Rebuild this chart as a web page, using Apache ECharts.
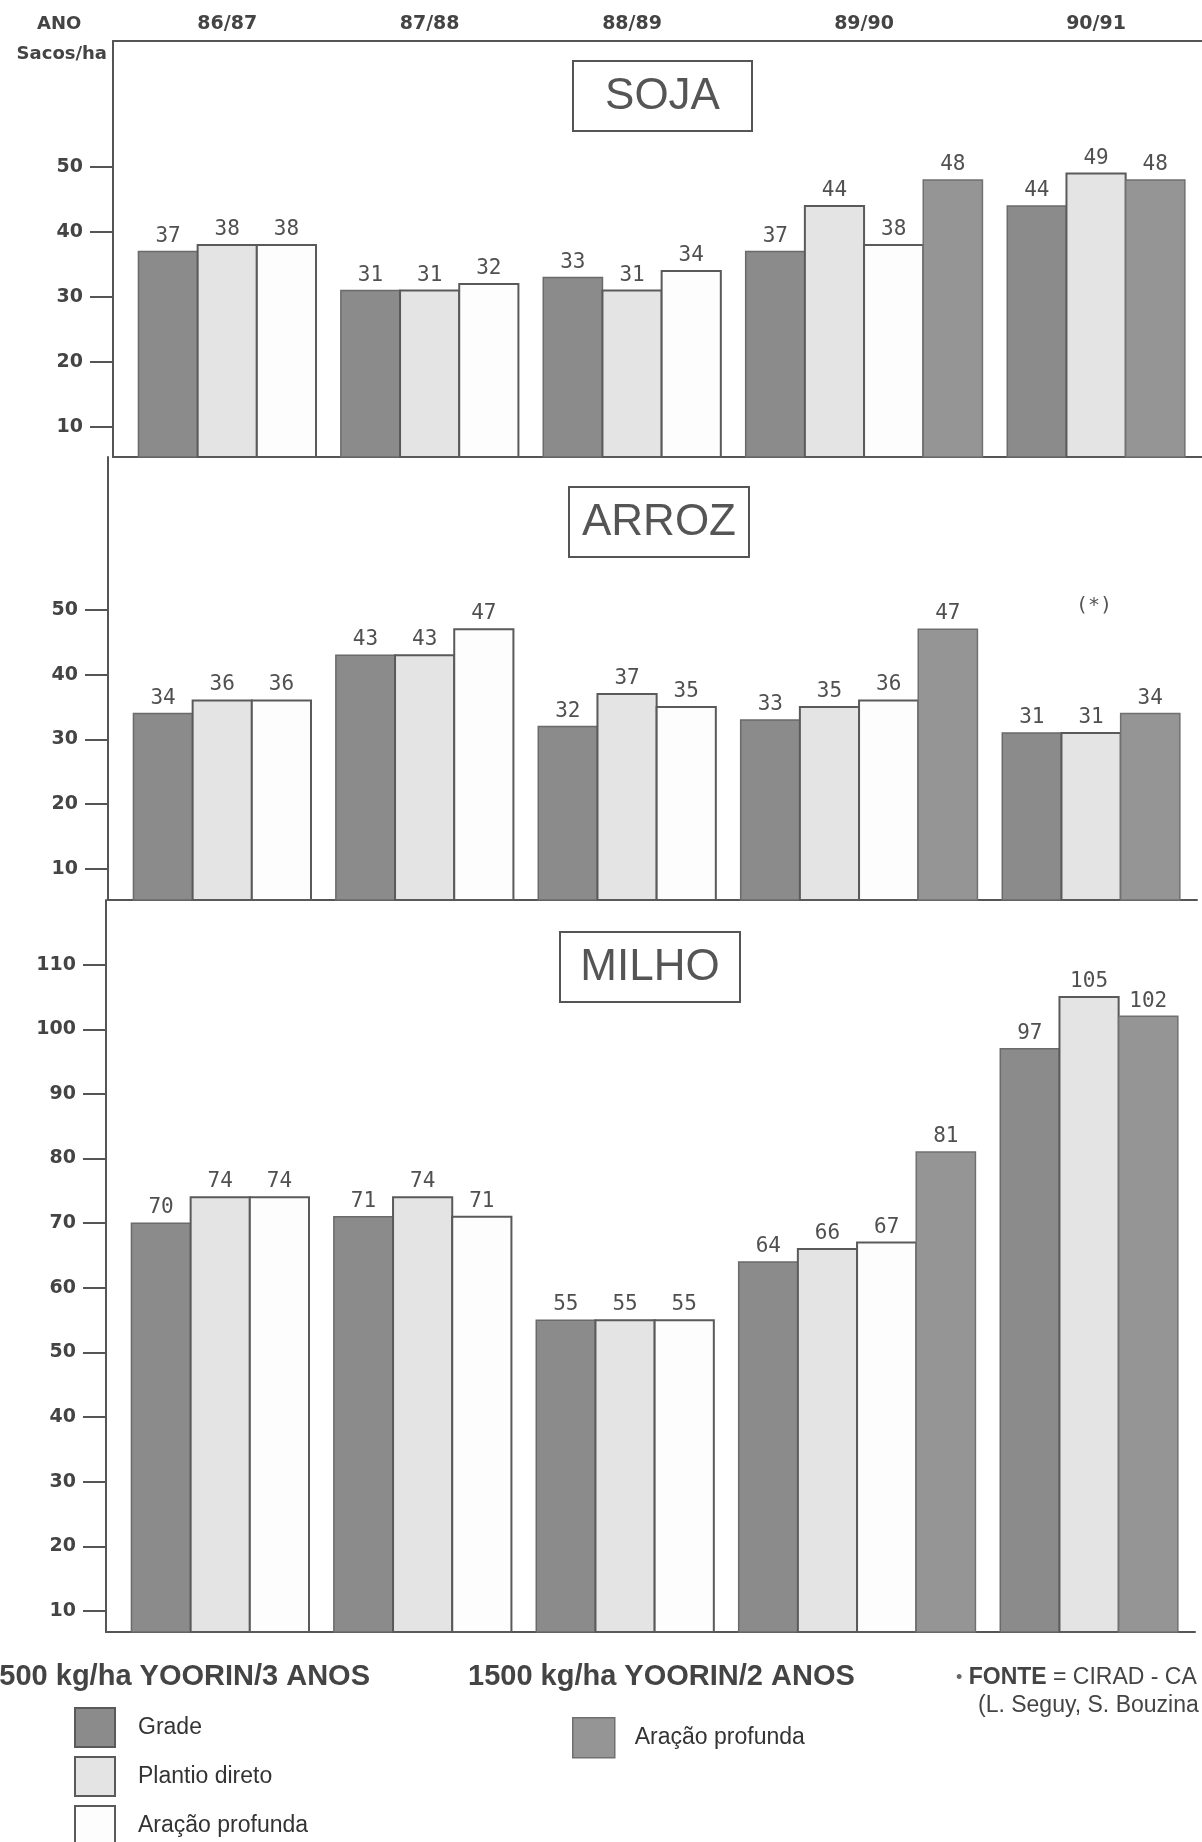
<!DOCTYPE html>
<html>
<head>
<meta charset="utf-8">
<script src="https://cdn.jsdelivr.net/npm/echarts@6/dist/echarts.min.js"></script>
<style>
html,body{margin:0;padding:0;background:#fff;}
#chart{width:1202px;height:1842px;}
</style>
</head>
<body>
<div id="chart"></div>
<script>
// ---------------- DATA ----------------
const years = ['86/87', '87/88', '88/89', '89/90', '90/91'];
const treatments = ['Grade', 'Plantio direto', 'Aração profunda (3 anos)', 'Aração profunda (2 anos)'];

const sojaGrade    = [37, 31, 33, 37, 44];
const sojaPlantio  = [38, 31, 31, 44, 49];
const sojaAracao3  = [38, 32, 34, 38, null];
const sojaAracao2  = [null, null, null, 48, 48];

const arrozGrade   = [34, 43, 32, 33, 31];
const arrozPlantio = [36, 43, 37, 35, 31];
const arrozAracao3 = [36, 47, 35, 36, null];
const arrozAracao2 = [null, null, null, 47, 34];

const milhoGrade   = [70, 71, 55, 64, 97];
const milhoPlantio = [74, 74, 55, 66, 105];
const milhoAracao3 = [74, 71, 55, 67, null];
const milhoAracao2 = [null, null, null, 81, 102];

const ticksSoja  = [10, 20, 30, 40, 50];
const ticksArroz = [10, 20, 30, 40, 50];
const ticksMilho = [10, 20, 30, 40, 50, 60, 70, 80, 90, 100, 110];

const panelTitles = ['SOJA', 'ARROZ', 'MILHO'];

// ---------------- LAYOUT (in bar-width units) ----------------
const PAD = 0.43, GAP = 0.42, XMAX = 18.4;
function layout(seriesArr) {
  const starts = seriesArr.map(() => []);
  const centers = [];
  let x = PAD;
  years.forEach((y, i) => {
    const g0 = x;
    seriesArr.forEach((arr, s) => {
      if (arr[i] != null) { starts[s].push([x, arr[i]]); x += 1; }
    });
    centers.push((g0 + x) / 2);
    x += GAP;
  });
  return { starts, centers };
}

const crops = [
  layout([sojaGrade, sojaPlantio, sojaAracao3, sojaAracao2]),
  layout([arrozGrade, arrozPlantio, arrozAracao3, arrozAracao2]),
  layout([milhoGrade, milhoPlantio, milhoAracao3, milhoAracao2])
];
const centers = crops[0].centers;

const styles = [
  { color: '#8b8b8b', borderColor: '#6a6a6a', borderWidth: 1.5 },
  { color: '#e4e4e4', borderColor: '#5a5a5a', borderWidth: 2 },
  { color: '#fdfdfd', borderColor: '#5a5a5a', borderWidth: 2 },
  { color: '#959595', borderColor: '#707070', borderWidth: 1.5 }
];

const LINE = '#555';
const TXT = '#444';

function renderBar(params, api) {
  const x0 = api.value(0), v = api.value(1);
  const p1 = api.coord([x0, v]);
  const p2 = api.coord([x0 + 1, v]);
  const cs = params.coordSys;
  const bottom = cs.y + cs.height;
  return {
    type: 'rect',
    shape: { x: p1[0], y: p1[1], width: p2[0] - p1[0], height: bottom - p1[1] },
    style: api.style(),
    textContent: {
      style: { text: String(v), font: '21px "DejaVu Sans Mono", monospace', fill: '#505050' }
    },
    textConfig: { position: 'top', distance: 4 }
  };
}

const grids = [
  { left: 113, top: 41, width: 1089, height: 416 },
  { left: 108, top: 457, width: 1089, height: 443 },
  { left: 106, top: 900, width: 1089, height: 732 }
];
const yRanges = [[5.4, 69.4], [5.2, 73.6], [6.75, 120.0]];
const yTicks = [ticksSoja, ticksArroz, ticksMilho];

const xAxes = [];
const yAxes = [];
const series = [];

// top axis with year labels
xAxes.push({
  gridIndex: 0, type: 'value', position: 'top', min: 0, max: XMAX,
  axisLine: { show: true, lineStyle: { color: LINE, width: 2 } },
  axisTick: { show: false }, splitLine: { show: false },
  axisLabel: {
    customValues: centers,
    formatter: (v) => { const i = centers.findIndex(c => Math.abs(c - v) < 1e-6); return i >= 0 ? years[i] : ''; },
    fontFamily: 'DejaVu Sans', fontWeight: 'bold', fontSize: 19, color: TXT, margin: 7
  }
});

grids.forEach((g, gi) => {
  xAxes.push({
    gridIndex: gi, type: 'value', position: 'bottom', min: 0, max: XMAX,
    axisLine: { show: true, onZero: false, lineStyle: { color: LINE, width: 2 } },
    axisTick: { show: false }, splitLine: { show: false }, axisLabel: { show: false }
  });
  yAxes.push({
    gridIndex: gi, type: 'value', min: yRanges[gi][0], max: yRanges[gi][1],
    axisLine: { show: true, lineStyle: { color: LINE, width: 2 } },
    axisTick: { show: true, customValues: yTicks[gi], length: 23, lineStyle: { color: LINE, width: 2 } },
    axisLabel: { customValues: yTicks[gi], fontFamily: 'DejaVu Sans', fontWeight: 'bold', fontSize: 19, color: TXT, margin: 30 },
    splitLine: { show: false }
  });
  crops[gi].starts.forEach((data, s) => {
    series.push({
      name: treatments[s], type: 'custom', xAxisIndex: gi + 1, yAxisIndex: gi,
      itemStyle: styles[s], data: data, renderItem: renderBar, clip: false, z: 2
    });
  });
});

const legendText = { fontFamily: 'Liberation Sans', fontSize: 23, color: '#333' };
const legendFmt = (n) => n.replace(/ \(.*\)$/, '');

const titleBoxes = [
  { x: 573, y: 61, w: 179, h: 70 },
  { x: 569, y: 487, w: 180, h: 70 },
  { x: 560, y: 932, w: 180, h: 70 }
];

const graphics = [
  { type: 'text', left: 37, top: 15, style: { text: 'ANO', font: 'bold 18px "DejaVu Sans"', fill: TXT } },
  { type: 'text', right: 1202 - 107, top: 45, style: { text: 'Sacos/ha', font: 'bold 18px "DejaVu Sans"', fill: TXT } },
  { type: 'text', left: 1076, top: 596, style: { text: '(*)', font: '20px "DejaVu Sans Mono"', fill: '#555' } },
  { type: 'text', x: 370, y: 1677, style: { text: '1500 kg/ha YOORIN/3 ANOS', font: 'bold 29px "Liberation Sans"', fill: TXT, align: 'right', verticalAlign: 'middle' } },
  { type: 'text', x: 468, y: 1677, style: { text: '1500 kg/ha YOORIN/2 ANOS', font: 'bold 29px "Liberation Sans"', fill: TXT, align: 'left', verticalAlign: 'middle' } },
  { type: 'text', x: 956, y: 1678, style: {
      text: '{d|•} {b|FONTE} = CIRAD - CA', verticalAlign: 'middle',
      rich: {
        d: { font: '18px "Liberation Sans"', fill: '#666' },
        b: { font: 'bold 23px "Liberation Sans"', fill: TXT }
      },
      font: '23px "Liberation Sans"', fill: TXT } },
  { type: 'text', x: 978, y: 1706, style: { text: '(L. Seguy, S. Bouzina', font: '23px "Liberation Sans"', fill: TXT, verticalAlign: 'middle' } }
];
titleBoxes.forEach((b, i) => {
  graphics.push({ type: 'rect', shape: { x: b.x, y: b.y, width: b.w, height: b.h }, style: { fill: '#fff', stroke: LINE, lineWidth: 2 }, z: 10 });
  graphics.push({ type: 'text', x: b.x + b.w / 2, y: b.y + b.h / 2 + 1, style: { text: panelTitles[i], font: '44px "Liberation Sans"', fill: '#555', align: 'center', verticalAlign: 'middle' }, z: 11 });
});

const option = {
  backgroundColor: '#fff',
  animation: false,
  grid: grids.map(g => Object.assign({ containLabel: false }, g)),
  xAxis: xAxes,
  yAxis: yAxes,
  legend: [
    {
      orient: 'vertical', left: 74, top: 1707, height: 200, padding: 0,
      itemWidth: 40, itemHeight: 39, itemGap: 8,
      icon: 'rect', selectedMode: false, formatter: legendFmt,
      textStyle: Object.assign({ padding: [0, 0, 0, 18] }, legendText),
      data: [0, 1, 2].map(i => ({ name: treatments[i], itemStyle: { color: styles[i].color, borderColor: '#5a5a5a', borderWidth: 2 } }))
    },
    {
      orient: 'vertical', left: 572, top: 1717, padding: 0,
      itemWidth: 42, itemHeight: 40,
      icon: 'rect', selectedMode: false, formatter: legendFmt,
      textStyle: Object.assign({ padding: [0, 0, 0, 15] }, legendText),
      data: [{ name: treatments[3], itemStyle: { color: styles[3].color, borderColor: '#707070', borderWidth: 1.5 } }]
    }
  ],
  graphic: graphics,
  series: series
};

const chart = echarts.init(document.getElementById('chart'), null, { renderer: 'canvas' });
chart.setOption(option);
</script>
</body>
</html>
